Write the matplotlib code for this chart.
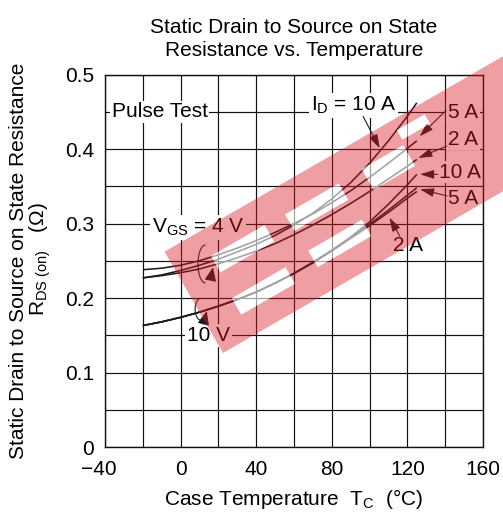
import math
import matplotlib
matplotlib.use('Agg')
import matplotlib.pyplot as plt
import matplotlib.transforms as mtrans
from matplotlib.patches import Arc, PathPatch, Rectangle
from matplotlib.path import Path

plt.rcParams['font.family'] = ['Liberation Sans', 'DejaVu Sans']
plt.rcParams['mathtext.fontset'] = 'custom'
plt.rcParams['mathtext.rm'] = 'Liberation Sans'
plt.rcParams['mathtext.it'] = 'Liberation Sans:italic'
plt.rcParams['mathtext.bf'] = 'Liberation Sans:bold'

# ---------------- data ----------------
temps = [-20, -10, 0, 10, 20, 30, 40, 50, 60, 70, 80, 90, 100, 110, 120, 125]
r_4v_10a = [0.227, 0.231, 0.237, 0.244, 0.252, 0.262, 0.272, 0.284, 0.298, 0.314, 0.333, 0.355, 0.381, 0.411, 0.444, 0.462]
r_4v_5a = [0.238, 0.240, 0.244, 0.250, 0.258, 0.267, 0.277, 0.288, 0.300, 0.313, 0.328, 0.344, 0.362, 0.381, 0.401, 0.411]
r_4v_2a = [0.227, 0.230, 0.234, 0.239, 0.246, 0.254, 0.263, 0.273, 0.285, 0.298, 0.312, 0.327, 0.343, 0.360, 0.377, 0.386]
r_10v_10a = [0.163, 0.168, 0.174, 0.181, 0.189, 0.198, 0.208, 0.220, 0.233, 0.248, 0.264, 0.282, 0.302, 0.326, 0.352, 0.366]
r_10v_5a = [0.163, 0.168, 0.174, 0.181, 0.189, 0.198, 0.208, 0.220, 0.233, 0.248, 0.264, 0.281, 0.299, 0.318, 0.338, 0.348]
r_10v_2a = [0.163, 0.168, 0.174, 0.181, 0.189, 0.198, 0.208, 0.220, 0.233, 0.247, 0.263, 0.280, 0.297, 0.315, 0.334, 0.343]

x_ticks = [-40, 0, 40, 80, 120, 160]
x_tick_labels = ['\u221240  ', '0', '40', '80', '120', '160']
y_ticks = [0, 0.1, 0.2, 0.3, 0.4, 0.5]
y_tick_labels = ['0', '0.1', '0.2', '0.3', '0.4', '0.5']
x_grid = list(range(-40, 161, 20))
y_grid = [0.05 * i for i in range(11)]

title = 'Static Drain to Source on State\nResistance vs. Temperature'
xlabel = 'Case Temperature  T$_\\mathregular{C}$  (\u00b0C)'
ylabel1 = 'Static Drain to Source on State Resistance'
ylabel2 = 'R$_\\mathregular{DS\\ (on)}$   (\u03a9)'

FS = 15
LC = '#1c1c1c'

fig = plt.figure(figsize=(5.03, 5.16), dpi=100)
ax = fig.add_axes([0.2087, 0.1337, 0.7515, 0.7219])
ax.set_xlim(-40, 160)
ax.set_ylim(0, 0.5)
ax.set_xticks(x_ticks)
ax.set_xticklabels(x_tick_labels, fontsize=FS)
ax.set_yticks(y_ticks)
ax.set_yticklabels(y_tick_labels, fontsize=FS)
ax.set_xticks(x_grid, minor=True)
ax.set_yticks(y_grid, minor=True)
ax.tick_params(which='both', length=0)
ax.tick_params(axis='x', pad=9)
ax.tick_params(axis='y', pad=8)
ax.grid(True, which='both', color='#111111', lw=0.85)
ax.set_axisbelow(True)
for s in ax.spines.values():
    s.set_linewidth(1.0)
    s.set_color('#111111')

for ys in (r_4v_10a, r_4v_5a, r_4v_2a, r_10v_10a, r_10v_5a, r_10v_2a):
    ax.plot(temps, ys, color=LC, lw=1.15, solid_capstyle='butt', zorder=4)

box = dict(boxstyle='square,pad=0.08', fc='white', ec='none')
ax.text(-36.5, 0.45, 'Pulse Test', fontsize=FS, va='center', ha='left', bbox=box, zorder=5)
ax.text(69, 0.4515, 'I$_\\mathregular{D}$ = 10 A', fontsize=FS, va='baseline', ha='left', bbox=box, zorder=5)
ax.text(-15.3, 0.2875, 'V$_\\mathregular{GS}$ = 4 V', fontsize=FS, va='baseline', ha='left', bbox=box, zorder=5)
ax.text(3.4, 0.1425, '10 V', fontsize=FS, va='baseline', ha='left', bbox=box, zorder=5)

ax.text(141.5, 0.449, '5 A', fontsize=FS, va='center', ha='left', bbox=box, zorder=5)
ax.text(141.5, 0.413, '2 A', fontsize=FS, va='center', ha='left', bbox=box, zorder=5)
ax.text(136.5, 0.369, '10 A', fontsize=FS, va='center', ha='left', bbox=box, zorder=5)
ax.text(141.5, 0.334, '5 A', fontsize=FS, va='center', ha='left', bbox=box, zorder=5)
ax.text(112.4, 0.271, '2 A', fontsize=FS, va='center', ha='left', zorder=5)

ap = dict(arrowstyle='-|>,head_length=0.7,head_width=0.22', color=LC, lw=0.8,
          shrinkA=0, shrinkB=0, mutation_scale=12)
arrows = [((96.6, 0.4437), (105.4, 0.401)),
          ((140.5, 0.452), (126.5, 0.417)),
          ((140.8, 0.404), (125.8, 0.388)),
          ((136.0, 0.366), (126.7, 0.366)),
          ((141.0, 0.337), (126.7, 0.346)),
          ((116.0, 0.283), (110.5, 0.308))]
for start, end in arrows:
    ax.annotate('', xy=end, xytext=start, arrowprops=ap, zorder=6)

# rotation symbols around the curve bundles
for (cx, cy, w, h) in [(13.2, 0.2457, 8.0, 0.051), (10.8, 0.185, 6.2, 0.0295)]:
    ax.add_patch(Arc((cx, cy), w, h, theta1=70, theta2=318, color=LC, lw=0.8, zorder=6))
    p0 = (cx + w / 2 * math.cos(math.radians(318)), cy + h / 2 * math.sin(math.radians(318)))
    p1 = (cx + w / 2 * math.cos(math.radians(350)), cy + h / 2 * math.sin(math.radians(350)))
    ax.annotate('', xy=p1, xytext=p0, arrowprops=dict(arrowstyle='-|>,head_length=0.7,head_width=0.3',
                color=LC, lw=0.8, shrinkA=0, shrinkB=0, mutation_scale=12), zorder=6)

ax.set_title(title, fontsize=FS, linespacing=1.25, pad=13.5)
ax.set_xlabel(xlabel, fontsize=FS, labelpad=6)
fig.text(0.036, 0.494, ylabel1, fontsize=FS, rotation=90, ha='center', va='center')
fig.text(0.080, 0.497, ylabel2, fontsize=FS, rotation=90, ha='center', va='center')

# ---------------- red watermark band (decoration) ----------------
T = mtrans.Affine2D().rotate_deg(30).translate(223, 163)
band = (0, 0, 430, 117)
holes = [(35, 24, 62, 19), (38, 71, 62, 19),
         (125, 27, 62, 19), (123, 70, 62, 19),
         (212, 66, 48, 24), (262, 95, 32, 11)]


def rect_pts(u0, v0, du, dv, reverse=False):
    pts = [(u0, v0), (u0 + du, v0), (u0 + du, v0 + dv), (u0, v0 + dv)]
    if reverse:
        pts = pts[::-1]
    return pts + [pts[0]]


verts, codes = [], []
for r, rev in [(band, False)] + [(hh, True) for hh in holes]:
    pts = rect_pts(*r, reverse=rev)
    verts += pts
    codes += [Path.MOVETO, Path.LINETO, Path.LINETO, Path.LINETO, Path.CLOSEPOLY]

for hh in holes:
    fig.add_artist(Rectangle(hh[:2], hh[2], hh[3], transform=T, fc='white', ec='none',
                             alpha=0.6, zorder=10))
fig.add_artist(PathPatch(Path(verts, codes), transform=T, fc=(0.85, 0.1, 0.14), ec='none',
                         alpha=0.42, zorder=11))

fig.savefig('out.png', dpi=100)
